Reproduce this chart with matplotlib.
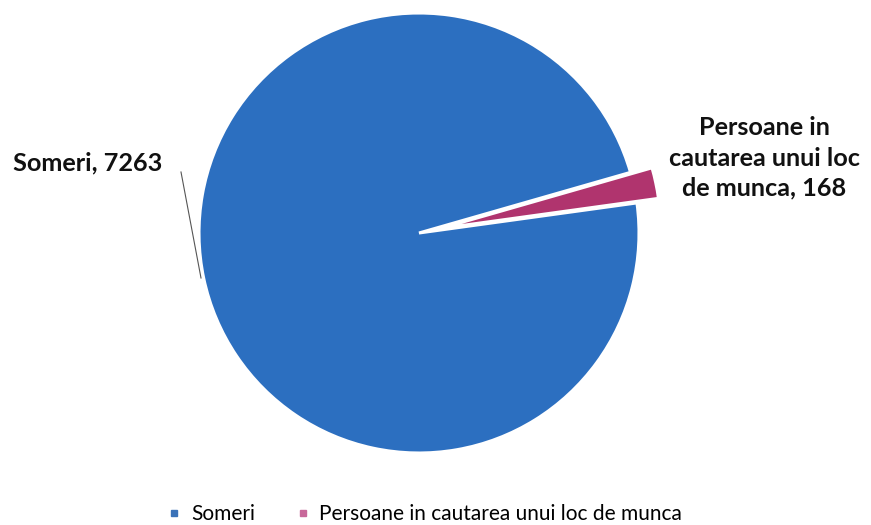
import matplotlib
matplotlib.use("Agg")
import matplotlib.pyplot as plt
from matplotlib.lines import Line2D

categories = ["Someri", "Persoane in cautarea unui loc de munca"]
values = [7263, 168]
label_texts = ["Someri, 7263", "Persoane in\ncautarea unui loc\nde munca, 168"]
colors = ["#2c6fc0", "#b0346e"]
legend_colors = ["#3a72b8", "#c8689a"]

W, H = 871, 525
fig = plt.figure(figsize=(W / 100, H / 100), dpi=100)
ax = fig.add_axes([0, 0, 1, 1])

cx, cy, R = 419, 233, 220
ax.pie(values, colors=colors, startangle=16, counterclock=True,
       explode=[0, 0.1], radius=1.0,
       wedgeprops=dict(edgecolor="white", linewidth=2.2))
ax.set_xlim(-cx / R, (W - cx) / R)
ax.set_ylim(-(H - cy) / R, cy / R)
ax.set_aspect("equal")
ax.axis("off")

# leader line for Someri label
ax.plot([(181 - cx) / R, (201 - cx) / R], [(cy - 172) / R, (cy - 278) / R],
        color="#555555", lw=0.8)

fig.text(13 / W, 1 - 170 / H, label_texts[0], family="Lato", weight="bold",
         fontsize=18.2, ha="left", va="baseline", color="#111111")
fig.text(764 / W, 1 - 158 / H, label_texts[1], family="Lato", weight="bold",
         fontsize=18.2, ha="center", va="center", color="#111111",
         linespacing=1.38)

handles = [Line2D([], [], marker="s", linestyle="none", markersize=5,
                  markerfacecolor=c, markeredgecolor=c) for c in legend_colors]
fig.legend(handles, categories, loc="center", bbox_to_anchor=(423 / W, 1 - 514 / H),
           ncol=2, frameon=False, prop=dict(family="Lato", size=15),
           handletextpad=0.3, columnspacing=1.8, handlelength=1.0)

fig.savefig("out.png", dpi=100)
